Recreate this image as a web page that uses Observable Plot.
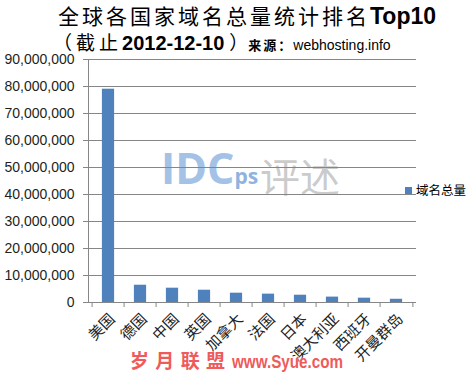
<!DOCTYPE html>
<html><head><meta charset="utf-8">
<script src="https://cdn.jsdelivr.net/npm/d3@7"></script>
<script src="https://cdn.jsdelivr.net/npm/@observablehq/plot@0.6"></script>
<style>
body{margin:0;background:#fff;}
#wrap{position:relative;width:473px;height:373px;overflow:hidden;}
#wrap svg{position:absolute;left:0;top:0;}
</style></head><body><div id="wrap"></div>
<script>
const countries = ["美国","德国","中国","英国","加拿大","法国","日本","澳大利亚","西班牙","开曼群岛"];
const domains = [79000000, 6400000, 5300000, 4550000, 3450000, 3100000, 2700000, 2000000, 1600000, 1200000];
const yTicks = [0, 10000000, 20000000, 30000000, 40000000, 50000000, 60000000, 70000000, 80000000, 90000000];
const seriesName = "域名总量";
const titleCJK = "全球各国家域名总量统计排名";
const titleLatin = "Top10";
const subtitleParts = ["（截止", "2012-12-10", "）"];
const sourceParts = ["来源：", "webhosting.info"];
const watermarkTop = ["IDC", "ps", "评述"];
const watermarkBottom = ["岁 月 联 盟", "www.Syue.com"];

const data = countries.map((c, i) => ({country: c, value: domains[i]}));

const W = 473, H = 373, mL = 88, mR = 57, mT = 59, mB = 71;
const half = (W - mL - mR) / countries.length / 2;
const grey = "#868686";
const blue = "#4F81BD";
const cjk = "'Noto Sans CJK SC', sans-serif";
const latin = "'Liberation Sans', Arial, sans-serif";

const wrap = document.getElementById("wrap");
const NS = "http://www.w3.org/2000/svg";
function svgLayer() {
  const s = document.createElementNS(NS, "svg");
  s.setAttribute("width", W); s.setAttribute("height", H);
  wrap.appendChild(s);
  return s;
}
function txt(parent, x, y, parts, attrs = {}) {
  const t = document.createElementNS(NS, "text");
  t.setAttribute("x", x); t.setAttribute("y", y);
  for (const k in attrs) t.setAttribute(k, attrs[k]);
  for (const p of parts) {
    const ts = document.createElementNS(NS, "tspan");
    ts.textContent = p.text;
    for (const k in p) if (k !== "text") ts.setAttribute(k, p[k]);
    t.appendChild(ts);
  }
  parent.appendChild(t);
  return t;
}

// background watermark layer (under the grid)
const back = svgLayer();
txt(back, 161, 184, [
  {text: watermarkTop[0], "font-size": 43, "font-weight": "bold", fill: "#a3c2e6", "font-family": "'Open Sans', sans-serif"},
  {text: watermarkTop[1], "font-size": 21, "font-weight": "bold", fill: "#8fb3e0", "font-family": "'Open Sans', sans-serif"}
]);
txt(back, 260, 192, [{text: watermarkTop[2], "font-size": 40, fill: "#b4b4b4", "fill-opacity": 0.7, "font-family": cjk}]);

const chart = Plot.plot({
  width: W, height: H,
  marginLeft: mL, marginRight: mR, marginTop: mT, marginBottom: mB,
  style: {fontFamily: latin, background: "transparent"},
  x: {type: "band", domain: countries, padding: 0, label: null},
  y: {domain: [0, 90000000], label: null},
  marks: [
    Plot.gridY(yTicks, {stroke: grey, strokeOpacity: 1}),
    Plot.barY(data, {x: "country", y: "value", fill: blue, insetLeft: 9.9, insetRight: 9.9}),
    Plot.ruleY([0], {stroke: grey}),
    Plot.frame({anchor: "left", stroke: grey}),
    Plot.axisY(yTicks, {tickFormat: d3.format(","), tickSize: 5, tickPadding: 9, fontSize: 14, stroke: grey, fill: "#231f20"}),
    Plot.axisX(countries, {tickSize: 5, tickFormat: () => "", dx: -half, stroke: grey}),
    Plot.axisX([countries[countries.length - 1]], {tickSize: 5, tickFormat: () => "", dx: half, stroke: grey}),
    Plot.axisX(countries, {tickSize: 0, tickPadding: 14, dx: 4, tickRotate: -45, fontSize: 15, fontFamily: cjk, fill: "#222"})
  ]
});
chart.style.position = "absolute";
chart.style.left = "0px";
chart.style.top = "0px";
wrap.appendChild(chart);

// foreground: titles, legend, bottom watermark
const front = svgLayer();
txt(front, 58, 24, [
  {text: titleCJK, "font-family": cjk, "font-size": 21, "letter-spacing": 3},
  {text: titleLatin, "font-family": latin, "font-size": 23, "font-weight": "bold"}
], {fill: "#000"});
txt(front, 53, 50, [
  {text: subtitleParts[0], "font-family": cjk, "font-size": 19, "letter-spacing": 4},
  {text: subtitleParts[1], "font-family": latin, "font-size": 20, "font-weight": "bold"},
  {text: subtitleParts[2], "font-family": cjk, "font-size": 19, dx: 5},
  {text: sourceParts[0], "font-family": cjk, "font-size": 13, "font-weight": "bold", "letter-spacing": 2},
  {text: sourceParts[1], "font-family": latin, "font-size": 14}
], {fill: "#000"});

const sw = document.createElementNS(NS, "rect");
sw.setAttribute("x", 405); sw.setAttribute("y", 187); sw.setAttribute("width", 7); sw.setAttribute("height", 7);
sw.setAttribute("fill", blue);
front.appendChild(sw);
txt(front, 416, 195, [{text: seriesName, "font-family": cjk, "font-size": 12.5}], {fill: "#000"});

const wmAttrs = {fill: "#ef5a5a", stroke: "#fff", "stroke-width": 0.6, "paint-order": "stroke", "font-weight": "bold"};
txt(front, 130, 368, [{text: watermarkBottom[0], "font-family": cjk, "font-size": 19, "letter-spacing": 1}], wmAttrs);
txt(front, 232, 368, [{text: watermarkBottom[1], "font-family": latin, "font-size": 19}],
  Object.assign({textLength: 111, lengthAdjust: "spacingAndGlyphs"}, wmAttrs));
</script></body></html>
